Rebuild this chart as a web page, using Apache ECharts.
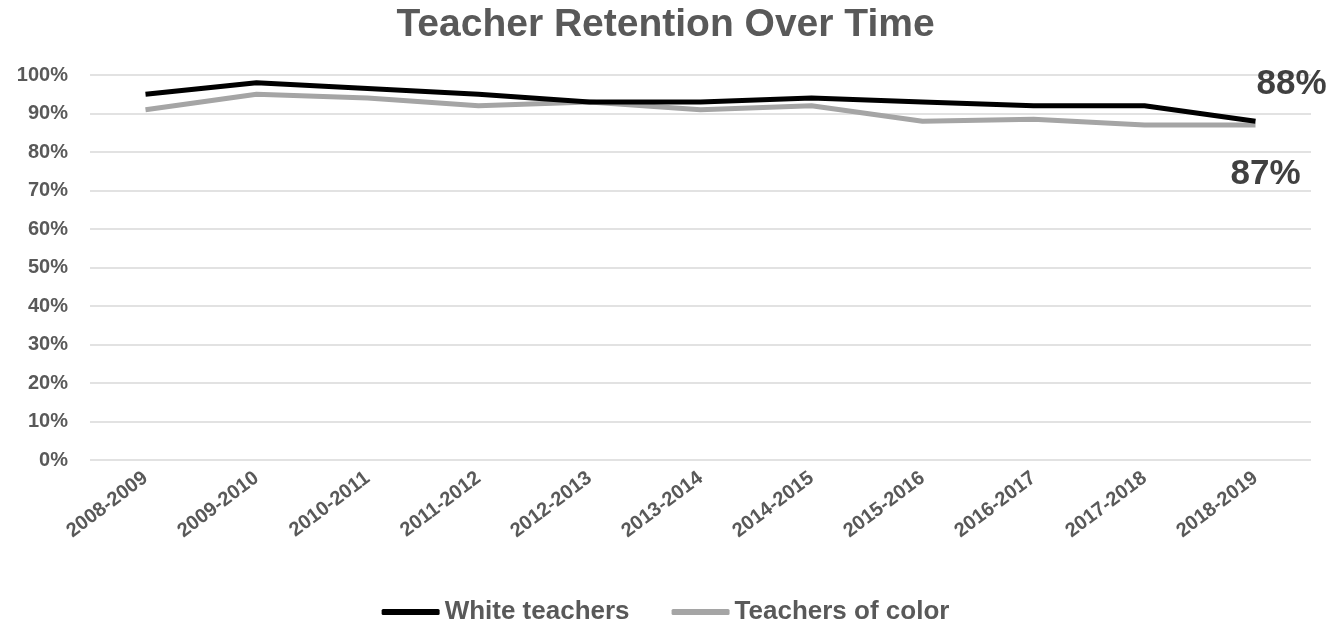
<!DOCTYPE html>
<html>
<head>
<meta charset="utf-8">
<script src="https://cdn.jsdelivr.net/npm/echarts@6/dist/echarts.min.js"></script>
<style>html,body{margin:0;padding:0;background:#fff;}#c{width:1331px;height:626px;}</style>
</head>
<body>
<div id="c"></div>
<script>
var categories = ['2008-2009','2009-2010','2010-2011','2011-2012','2012-2013','2013-2014','2014-2015','2015-2016','2016-2017','2017-2018','2018-2019'];
var whiteTeachers = [95, 98, 96.5, 95, 93, 93, 94, 93, 92, 92, 88];
var teachersOfColor = [91, 95, 94, 92, 93, 91, 92, 88, 88.5, 87, 87];
var yTicks = [0, 10, 20, 30, 40, 50, 60, 70, 80, 90, 100];

var font = 'Liberation Sans, Arial, sans-serif';
var chart = echarts.init(document.getElementById('c'));
chart.setOption({
  animation: false,
  title: {
    text: 'Teacher Retention Over Time', left: 'center', top: 1,
    textStyle: { fontSize: 39, fontWeight: 'bold', color: '#595959', fontFamily: font }
  },
  legend: {
    top: 594, left: 'center', itemWidth: 58, itemHeight: 6, itemGap: 42,
    icon: 'roundRect',
    textStyle: { fontSize: 26, fontWeight: 'bold', color: '#595959', fontFamily: font },
    data: ['White teachers', 'Teachers of color']
  },
  grid: { left: 90, right: 20, top: 75, bottom: 166, containLabel: false },
  xAxis: {
    type: 'category', data: categories, boundaryGap: true,
    axisLine: { show: false }, axisTick: { show: false },
    axisLabel: { rotate: 37, interval: 0, margin: 16, fontSize: 20, fontWeight: 'bold', color: '#595959', fontFamily: font }
  },
  yAxis: {
    type: 'value', min: yTicks[0], max: yTicks[yTicks.length - 1], interval: 10,
    axisLine: { show: false }, axisTick: { show: false },
    splitLine: { lineStyle: { color: '#d9d9d9', width: 1.5 } },
    axisLabel: { formatter: '{value}%', margin: 22, fontSize: 20, fontWeight: 'bold', color: '#595959', fontFamily: font }
  },
  series: [
    {
      name: 'Teachers of color', type: 'line', data: teachersOfColor,
      symbol: 'none', lineStyle: { color: '#a5a5a5', width: 5 }, itemStyle: { color: '#a5a5a5' }, z: 2,
      endLabel: {
        show: true, offset: [-33, 49],
        formatter: function (p) { return Math.round(p.value) + '%'; },
        fontSize: 35, fontWeight: 'bold', color: '#404040', fontFamily: font
      }
    },
    {
      name: 'White teachers', type: 'line', data: whiteTeachers,
      symbol: 'none', lineStyle: { color: '#000000', width: 5 }, itemStyle: { color: '#000000' }, z: 3,
      endLabel: {
        show: true, offset: [-7, -37],
        formatter: function (p) { return Math.round(p.value) + '%'; },
        fontSize: 35, fontWeight: 'bold', color: '#404040', fontFamily: font
      }
    }
  ]
});
</script>
</body>
</html>
